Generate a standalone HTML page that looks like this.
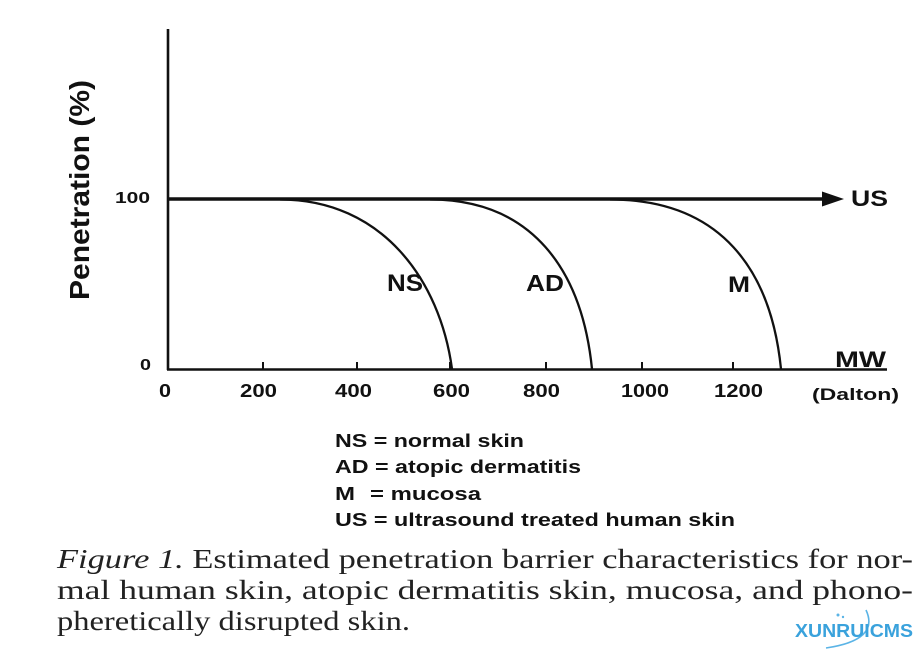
<!DOCTYPE html>
<html>
<head>
<meta charset="utf-8">
<style>
  html,body{margin:0;padding:0;background:#fff;}
  body{width:920px;height:656px;overflow:hidden;}
  svg{display:block;}
  .b{font-family:"Liberation Sans",Arial,sans-serif;font-weight:bold;fill:#111;}
  .s{font-family:"Liberation Serif","Times New Roman",serif;fill:#222;}
</style>
</head>
<body>
<svg width="920" height="656" viewBox="0 0 920 656" xmlns="http://www.w3.org/2000/svg">
  <rect width="920" height="656" fill="#fff"/>

  <!-- axes -->
  <line x1="168" y1="29" x2="168" y2="370" stroke="#111" stroke-width="2.6"/>
  <line x1="167" y1="369.5" x2="887" y2="369.5" stroke="#111" stroke-width="2.6"/>

  <!-- ticks -->
  <g stroke="#111" stroke-width="2">
    <line x1="263" y1="369" x2="263" y2="362"/>
    <line x1="357" y1="369" x2="357" y2="362"/>
    <line x1="450" y1="369" x2="450" y2="362"/>
    <line x1="546" y1="369" x2="546" y2="362"/>
    <line x1="642" y1="369" x2="642" y2="362"/>
    <line x1="733" y1="369" x2="733" y2="362"/>
  </g>

  <!-- US line with arrow -->
  <line x1="168" y1="199" x2="826" y2="199" stroke="#111" stroke-width="3.4"/>
  <polygon points="822,191.5 844,199 822,206.5" fill="#111"/>

  <!-- curves -->
  <g fill="none" stroke="#111" stroke-width="2.3">
    <path d="M 280 199.5 C 382 199.5 440 280 452 369"/>
    <path d="M 430 199.5 C 532 199.5 582 270 592 369"/>
    <path d="M 610 199.5 C 721 199.5 771 270 781 369"/>
  </g>

  <!-- y-axis title -->
  <text class="b" font-size="28" text-anchor="middle" transform="translate(89,190) rotate(-90)" textLength="220" lengthAdjust="spacingAndGlyphs">Penetration (%)</text>

  <!-- y tick labels -->
  <text class="b" x="115" y="203" font-size="16" textLength="35" lengthAdjust="spacingAndGlyphs">100</text>
  <text class="b" x="140" y="370" font-size="16" textLength="11" lengthAdjust="spacingAndGlyphs">0</text>

  <!-- x tick labels -->
  <g class="b" font-size="18">
    <text x="159" y="397" textLength="12" lengthAdjust="spacingAndGlyphs">0</text>
    <text x="240" y="397" textLength="37" lengthAdjust="spacingAndGlyphs">200</text>
    <text x="335" y="397" textLength="37" lengthAdjust="spacingAndGlyphs">400</text>
    <text x="433" y="397" textLength="37" lengthAdjust="spacingAndGlyphs">600</text>
    <text x="523" y="397" textLength="37" lengthAdjust="spacingAndGlyphs">800</text>
    <text x="621" y="397" textLength="48" lengthAdjust="spacingAndGlyphs">1000</text>
    <text x="714" y="397" textLength="49" lengthAdjust="spacingAndGlyphs">1200</text>
  </g>
  <text class="b" x="812" y="400" font-size="17" textLength="87" lengthAdjust="spacingAndGlyphs">(Dalton)</text>
  <text class="b" x="835" y="367" font-size="22" textLength="51" lengthAdjust="spacingAndGlyphs">MW</text>
  <text class="b" x="851" y="206" font-size="22" textLength="37" lengthAdjust="spacingAndGlyphs">US</text>

  <!-- curve labels -->
  <text class="b" x="387" y="291" font-size="24" textLength="36" lengthAdjust="spacingAndGlyphs">NS</text>
  <text class="b" x="526" y="291" font-size="23" textLength="38" lengthAdjust="spacingAndGlyphs">AD</text>
  <text class="b" x="728" y="292" font-size="22" textLength="22" lengthAdjust="spacingAndGlyphs">M</text>

  <!-- legend -->
  <g class="b" font-size="18">
    <text x="335" y="447" textLength="189" lengthAdjust="spacingAndGlyphs">NS = normal skin</text>
    <text x="335" y="473" textLength="246" lengthAdjust="spacingAndGlyphs">AD = atopic dermatitis</text>
    <text x="335" y="500" textLength="20" lengthAdjust="spacingAndGlyphs">M</text>
    <text x="370" y="500" textLength="111" lengthAdjust="spacingAndGlyphs">= mucosa</text>
    <text x="335" y="526" textLength="400" lengthAdjust="spacingAndGlyphs">US = ultrasound treated human skin</text>
  </g>

  <!-- caption -->
  <g class="s" font-size="27">
    <text x="57" y="568" textLength="856" lengthAdjust="spacingAndGlyphs"><tspan font-style="italic">Figure 1.</tspan> Estimated penetration barrier characteristics for nor-</text>
    <text x="57" y="599" textLength="856" lengthAdjust="spacingAndGlyphs">mal human skin, atopic dermatitis skin, mucosa, and phono-</text>
    <text x="57" y="630" textLength="353" lengthAdjust="spacingAndGlyphs">pheretically disrupted skin.</text>
  </g>

  <!-- watermark -->
  <path d="M 826 648 Q 880 640 866 610" fill="none" stroke="#5bb4e6" stroke-width="1.6"/>
  <circle cx="838" cy="615" r="1.5" fill="#5bb4e6"/>
  <circle cx="843" cy="617" r="1.2" fill="#5bb4e6"/>
  <text x="795" y="637" font-family="Liberation Sans, Arial, sans-serif" font-weight="bold" font-size="18" fill="#3aa2dc" textLength="118" lengthAdjust="spacingAndGlyphs">XUNRUICMS</text>
</svg>
</body>
</html>
